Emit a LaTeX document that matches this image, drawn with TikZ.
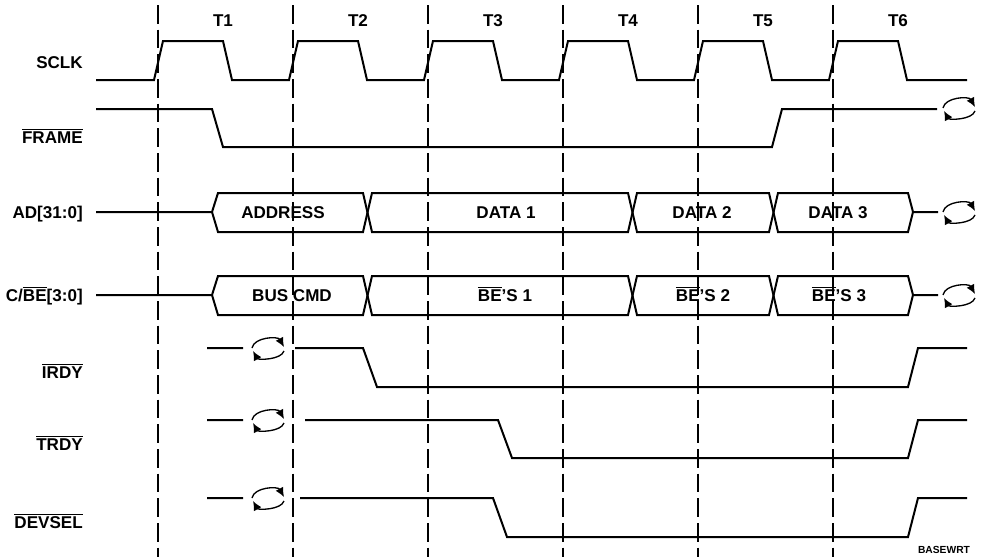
\documentclass[tikz,border=0pt]{standalone}
\usepackage{fontspec}
\setmainfont{Liberation Sans}
\usetikzlibrary{arrows.meta}
\newcommand\ovl[1]{$\overline{\mbox{#1}}$}
\begin{document}
\begin{tikzpicture}[x=0.75pt,y=-0.75pt]
    \tikzstyle{every node}=[inner sep=0pt,text height=9pt,text depth=0pt,font=\fontsize{12.8}{14}\selectfont\bfseries]
    \tikzstyle{lbl}=[anchor=east]
    \tikzstyle{sig}=[line width=1.5pt,line join=miter]
    \tikzstyle{cyc}=[line width=0.8pt,dash pattern=on 14pt off 4.5pt]
    \tikzset{turnaround/.pic={
        \draw[line width=1pt,-{Latex[length=7pt,width=6.5pt]}] (-16,0) .. controls (-14,-11) and (10,-12) .. (16,-1);
        \draw[line width=1pt,-{Latex[length=7pt,width=6.5pt]}] (16,3) .. controls (13,12) and (-10,12) .. (-15,3);
    }}
    \useasboundingbox (0,0) rectangle (985,557);
    \foreach \x in {158,293,...,833} \draw[cyc] (\x,5) -- (\x,557);
    \foreach \i in {1,...,6} \node (t\i) at ({88+135*\i},20) {T\i};
    \draw node[lbl](sclk)at(83,62){SCLK}
          node[lbl](frame)at(83,137){\ovl{FRAME}}
          node[lbl](ad)at(83,212){AD[31:0]}
          node[lbl](cbe)at(83,295){C/\ovl{BE}[3:0]}
          node[lbl](irdy)at(83,372){\ovl{IRDY}}
          node[lbl](trdy)at(83,444){\ovl{TRDY}}
          node[lbl](devsel)at(83,522){\ovl{DEVSEL}};
    \draw node(addr)at(283,212){ADDRESS} node(data1)at(506,212){DATA 1}
          node(data2)at(702,212){DATA 2} node(data3)at(838,212){DATA 3};
    \draw node(cmd)at(292,295){BUS CMD} node(be1)at(505,295){\ovl{BE}'S 1}
          node(be2)at(703,295){\ovl{BE}'S 2} node(be3)at(839,295){\ovl{BE}'S 3};
    \node[text height=5.5pt,font=\fontsize{7.7}{9}\selectfont\bfseries] (ref) at (944,550) {BASEWRT};
    \draw[sig] (96,80) \foreach \x in {158,293,...,833} { -- (\x-4,80) -- (\x+5,41) -- (\x+65,41) -- (\x+74,80) } -- (967,80);
    \draw[sig] (96,109) -- (212,109) -- (223,147) -- (772,147) -- (782,109) -- (937,109);
    \draw[sig] (96,212) -- (212,212) -- (218,193) -- (363,193) -- (372,232) -- (628,232) -- (637,193) -- (769,193) -- (778,232) -- (908,232) -- (913,212) -- (938,212);
    \draw[sig] (212,212) -- (218,232) -- (363,232) -- (372,193) -- (628,193) -- (637,232) -- (769,232) -- (778,193) -- (908,193) -- (913,212);
    \draw[sig] (96,295) -- (212,295) -- (218,276) -- (363,276) -- (372,315) -- (628,315) -- (637,276) -- (769,276) -- (778,315) -- (908,315) -- (913,295) -- (938,295);
    \draw[sig] (212,295) -- (218,315) -- (363,315) -- (372,276) -- (628,276) -- (637,315) -- (769,315) -- (778,276) -- (908,276) -- (913,295);
    \draw[sig] (207,348) -- (243,348) (295,348) -- (363,348) -- (377,387) -- (908,387) -- (918,348) -- (967,348);
    \draw[sig] (207,420) -- (243,420) (305,420) -- (498,420) -- (512,458) -- (908,458) -- (918,420) -- (967,420);
    \draw[sig] (207,498) -- (243,498) (300,498) -- (493,498) -- (507,537) -- (908,537) -- (918,498) -- (967,498);
    \foreach \p in {(959,108),(959,212),(959,295),(268,348),(268,420),(268,498)} \pic at \p {turnaround};
\end{tikzpicture}
\end{document}
